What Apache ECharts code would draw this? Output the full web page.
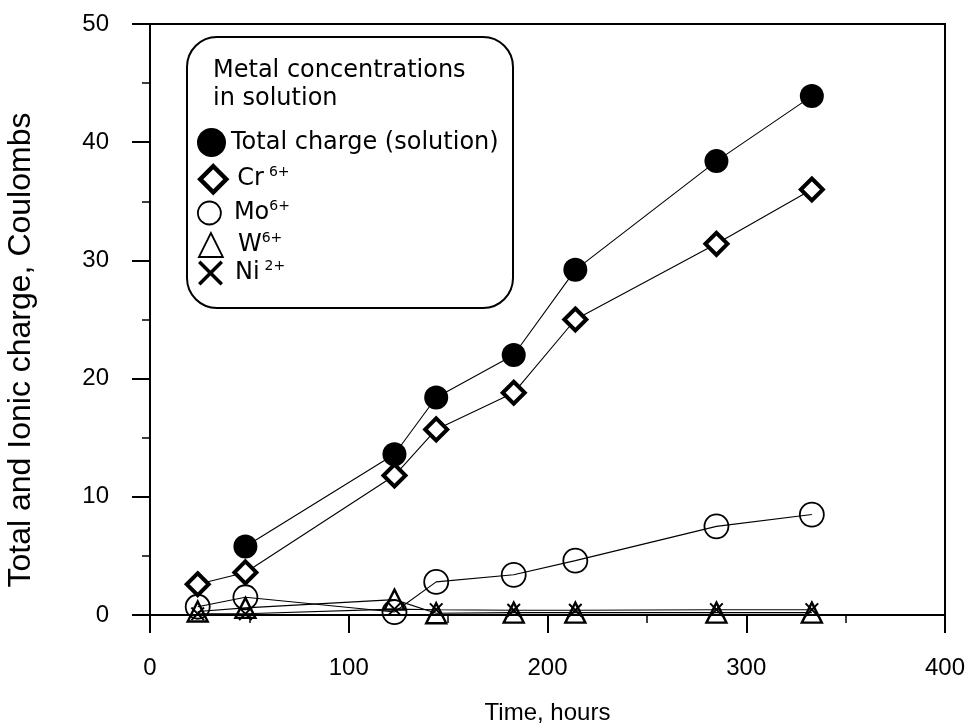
<!DOCTYPE html>
<html>
<head>
<meta charset="utf-8">
<script src="https://cdn.jsdelivr.net/npm/echarts@6/dist/echarts.min.js"></script>
<style>html,body{margin:0;padding:0;background:#fff}#c{width:970px;height:725px}</style>
</head>
<body>
<div id="c"></div>
<script>
// ---- data ----
const timeHours   = [24, 48, 123, 144, 183, 214, 285, 333];
const totalCharge = [null, 5.8, 13.6, 18.4, 22.0, 29.2, 38.4, 43.9];
const cr6 = [2.6, 3.6, 11.8, 15.7, 18.8, 25.0, 31.4, 36.0];
const mo6 = [0.7, 1.5, 0.25, 2.8, 3.4, 4.6, 7.5, 8.5];
const w6  = [0.3, 0.6, 1.3, 0.15, 0.2, 0.2, 0.2, 0.2];
const ni2 = [0.1, 0.1, 0.5, 0.45, 0.4, 0.4, 0.45, 0.45];
const seriesNames = ['Total charge (solution)', 'Cr6+', 'Mo6+', 'W6+', 'Ni2+'];
const xTicks = [0, 100, 200, 300, 400];
const yTicks = [0, 10, 20, 30, 40, 50];
const legendTitle = ['Metal concentrations', 'in solution'];
const xTitle = 'Time, hours';
const yTitle = 'Total and Ionic charge, Coulombs';

function pairs(ys) {
  const out = [];
  for (let i = 0; i < timeHours.length; i++) if (ys[i] != null) out.push([timeHours[i], ys[i]]);
  return out;
}

const AX = 'Liberation Sans, Arial, Helvetica, sans-serif';
const LG = 'DejaVu Sans, sans-serif';
const XPATH = 'path://M0,1 L1,0 L5,4 L9,0 L10,1 L6,5 L10,9 L9,10 L5,6 L1,10 L0,9 L4,5 Z';
const CLEAR = 'rgba(255,255,255,0)';

const styles = [
  { symbol: 'circle',  size: 24, item: { color: '#000', borderWidth: 0 } },
  { symbol: 'diamond', size: 22, item: { color: '#fff', borderColor: '#000', borderWidth: 4 } },
  { symbol: 'circle',  size: 24, item: { color: CLEAR, borderColor: '#000', borderWidth: 1.8 } },
  { symbol: 'triangle',size: 20, item: { color: CLEAR, borderColor: '#000', borderWidth: 2.4 } },
  { symbol: XPATH,     size: 14, item: { color: '#000', borderWidth: 0 } }
];
const dataSets = [totalCharge, cr6, mo6, w6, ni2];

const series = seriesNames.map((n, i) => ({
  name: n,
  type: 'line',
  data: pairs(dataSets[i]),
  symbol: styles[i].symbol,
  symbolSize: styles[i].size,
  itemStyle: styles[i].item,
  lineStyle: { color: '#000', width: 1.1 },
  emphasis: { disabled: true },
  z: 10 - i
}));

const legendSpec = [
  { top: 128, left: 197, size: 29, icon: 'circle',  st: { color: '#000', borderWidth: 0 }, pad: 0, base: 'Total charge (solution)', sup: '' },
  { top: 164, left: 198, size: 26, icon: 'diamond', st: { color: '#fff', borderColor: '#000', borderWidth: 4.5 }, pad: 6, base: 'Cr', sup: '6+', gap: 5 },
  { top: 199, left: 197, size: 23, icon: 'circle',  st: { color: CLEAR, borderColor: '#000', borderWidth: 1.8 }, pad: 8, base: 'Mo', sup: '6+', gap: 0 },
  { top: 231, left: 198, size: 24, icon: 'triangle',st: { color: CLEAR, borderColor: '#000', borderWidth: 1.8 }, pad: 10, base: 'W', sup: '6+', gap: 0 },
  { top: 259, left: 198, size: 25, icon: XPATH,     st: { color: '#000', borderWidth: 0 }, pad: 7, base: 'Ni', sup: '2+', gap: 5 }
];
const legends = legendSpec.map((s, i) => ({
  show: true,
  selectedMode: false,
  left: s.left, top: s.top,
  padding: 0,
  itemWidth: s.size, itemHeight: s.size,
  itemStyle: s.st,
  data: [{ name: seriesNames[i], icon: s.icon, itemStyle: s.st }],
  formatter: () => s.sup ? '{b|' + s.base + '}{s|' + s.sup + '}' : '{b|' + s.base + '}',
  textStyle: {
    color: '#000',
    rich: {
      b: { fontFamily: LG, fontSize: 24, lineHeight: 28, color: '#000', padding: [0, s.gap || 0, 0, s.pad] },
      s: { fontFamily: LG, fontSize: 14, lineHeight: 14, verticalAlign: 'top', color: '#000' }
    }
  }
}));

const chart = echarts.init(document.getElementById('c'), null, { renderer: 'canvas' });
chart.setOption({
  animation: false,
  backgroundColor: '#fff',
  grid: { left: 150, right: 25, top: 24, bottom: 110, containLabel: false, outerBoundsMode: 'none',
          show: true, borderColor: '#000', borderWidth: 2, backgroundColor: 'transparent' },
  xAxis: {
    type: 'value', min: xTicks[0], max: xTicks[xTicks.length - 1], interval: 100,
    name: xTitle, nameLocation: 'middle', nameGap: 86,
    nameTextStyle: { fontFamily: AX, fontSize: 24, color: '#000' },
    axisLine: { show: true, onZero: false, lineStyle: { color: '#000', width: 2 } },
    axisTick: { show: true, length: 18, lineStyle: { color: '#000', width: 2 } },
    minorTick: { show: true, splitNumber: 2, length: 8, lineStyle: { color: '#000', width: 1.5 } },
    splitLine: { show: false },
    axisLabel: { fontFamily: AX, fontSize: 24, color: '#000', margin: 41 }
  },
  yAxis: {
    type: 'value', min: yTicks[0], max: yTicks[yTicks.length - 1], interval: 10,
    axisLine: { show: true, onZero: false, lineStyle: { color: '#000', width: 2 } },
    axisTick: { show: true, length: 18, lineStyle: { color: '#000', width: 2 } },
    minorTick: { show: true, splitNumber: 2, length: 8, lineStyle: { color: '#000', width: 1.5 } },
    splitLine: { show: false },
    axisLabel: { fontFamily: AX, fontSize: 24, color: '#000', margin: 41 }
  },
  legend: legends,
  graphic: [
    { type: 'rect', z: 1, silent: true, shape: { x: 187, y: 37, width: 326, height: 271, r: 30 }, style: { fill: '#fff', stroke: '#000', lineWidth: 2 } },
    { type: 'text', z: 2, silent: true, left: 213, top: 57, style: { text: legendTitle.join('\n'), font: '24px ' + LG, lineHeight: 28, fill: '#000' } },
    { type: 'text', z: 2, silent: true, x: 21, y: 350, rotation: Math.PI / 2, style: { text: yTitle, font: '32px ' + AX, fill: '#000', align: 'center', verticalAlign: 'middle' } }
  ],
  series: series
});
</script>
</body>
</html>
